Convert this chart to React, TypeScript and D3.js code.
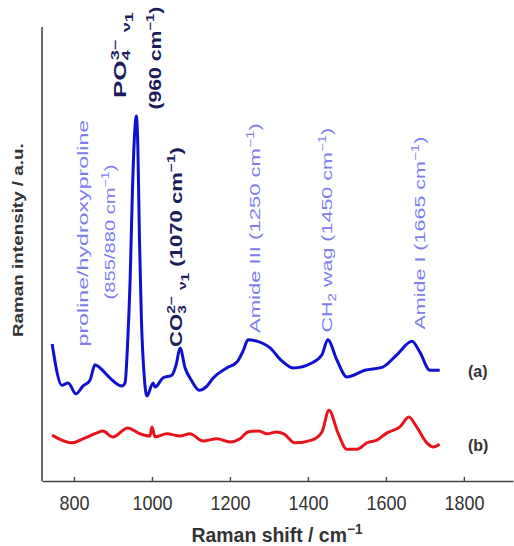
import { useEffect, useRef } from 'react'
import * as d3 from 'd3'

// spectrum (a) - blue
const shiftA = [744, 769, 785, 805, 823, 841, 854, 867, 892, 923, 931, 938, 944, 950, 956, 960, 964, 968, 973, 980, 987, 1003, 1008, 1028, 1051, 1062, 1072, 1085, 1101, 1121, 1141, 1157, 1192, 1218, 1235, 1246, 1269, 1303, 1330, 1362, 1410, 1436, 1451, 1474, 1500, 1546, 1592, 1628, 1667, 1687, 1713, 1738]
const intensityA = [30.2, 21.1, 21.6, 19.2, 20.9, 22.2, 25.6, 24.9, 22.7, 20.9, 21.6, 31.1, 44.3, 64.1, 77.3, 80.4, 72.9, 53.1, 35.5, 23.3, 18.7, 21.6, 20.7, 22.7, 23.3, 25.6, 29.3, 24.9, 22.2, 20.0, 20.9, 22.7, 24.9, 26.2, 28.9, 31.1, 30.8, 29.3, 26.7, 24.9, 26.0, 27.8, 31.1, 26.7, 22.9, 24.4, 25.1, 27.8, 30.8, 28.4, 24.4, 24.4]

// spectrum (b) - red
const shiftB = [744, 769, 795, 823, 859, 874, 900, 938, 969, 995, 1000, 1008, 1038, 1072, 1097, 1131, 1167, 1200, 1226, 1246, 1274, 1295, 1320, 1338, 1367, 1410, 1436, 1454, 1477, 1500, 1526, 1551, 1577, 1603, 1636, 1659, 1679, 1705, 1722, 1738]
const intensityB = [10.1, 9.0, 8.4, 9.3, 10.6, 11.0, 9.7, 11.7, 10.4, 9.9, 11.9, 9.7, 10.4, 9.9, 10.4, 8.8, 9.3, 8.6, 9.3, 10.8, 11.0, 10.4, 10.8, 10.4, 8.4, 9.0, 10.8, 15.6, 10.6, 7.0, 7.0, 8.4, 9.0, 10.6, 11.9, 14.1, 11.9, 8.4, 7.5, 8.1]

const xTicks = [800, 1000, 1200, 1400, 1600, 1800]

const LIGHT = '#7d7df0'
const DARK = '#1c1c5c'
const GREY = '#333'
const FONT = '"Liberation Sans", Arial, sans-serif'

type Part = [string, ('sup' | 'sub' | 'sub2' | 'stack')?]

export default function App() {
  const svgRef = useRef<SVGSVGElement>(null)

  useEffect(() => {
    if (!svgRef.current) return
    const svg = d3.select(svgRef.current)
    svg.selectAll('*').remove()

    const x = d3.scaleLinear().domain([718, 1926]).range([42, 513])
    const y = d3.scaleLinear().domain([0, 100]).range([481, 27])

    // axes
    svg.append('line')
      .attr('x1', 42).attr('x2', 42)
      .attr('y1', 27).attr('y2', 481)
      .attr('stroke', '#444').attr('stroke-width', 1.6)

    const xAxis = svg.append('g')
      .attr('transform', 'translate(0,481)')
      .call(d3.axisBottom(x).tickValues(xTicks).tickSize(-4).tickSizeOuter(0).tickFormat(d3.format('d')))
    xAxis.select('.domain').attr('stroke', '#444').attr('stroke-width', 1.6)
    xAxis.selectAll('.tick line').attr('stroke', '#444').attr('stroke-width', 1.4)
    xAxis.selectAll('.tick text')
      .attr('y', 29 / 1.15).attr('dy', 0)
      .attr('transform', 'scale(1,1.15)')
      .attr('font-family', FONT).attr('font-size', 18).attr('fill', GREY)

    const drawSpectrum = (xs: number[], ys: number[], color: string) => {
      const path = d3.line<number>()
        .x((d) => x(d))
        .y((_, i) => y(ys[i]))
        .curve(d3.curveMonotoneX)
      svg.append('path')
        .attr('d', path(xs))
        .attr('fill', 'none')
        .attr('stroke', color)
        .attr('stroke-width', 3)
        .attr('stroke-linejoin', 'round')
    }
    drawSpectrum(shiftA, intensityA, '#1010d0')
    drawSpectrum(shiftB, intensityB, '#e8141c')

    // text helper: centre at (cx, baseline), stretched to target length
    const label = (parts: Part[], cx: number, cy: number, len: number, size: number, bold: boolean, fill: string, rotate: boolean, sy = 1) => {
      const t = svg.append('text')
        .attr('font-family', FONT)
        .attr('font-size', size)
        .attr('font-weight', bold ? 700 : 400)
        .attr('fill', fill)
      let off = 0
      parts.forEach(([s, kind]) => {
        const small = size * 0.7
        let target = 0
        if (kind === 'sup') target = -size * 0.42
        if (kind === 'sub') target = size * 0.25
        if (kind === 'sub2') target = size * 0.45
        if (kind === 'stack') target = -size * 0.42
        const ts = t.append('tspan').text(s).attr('dy', target - off)
        if (kind) ts.attr('font-size', small)
        if (kind === 'stack') ts.attr('dx', -small * 0.556)
        off = target
      })
      const bb = (t.node() as SVGTextElement).getBBox()
      const k = len / bb.width
      const rot = rotate ? ' rotate(-90)' : ''
      t.attr('transform', `translate(${cx},${cy})${rot} scale(${k},${sy}) translate(${-bb.x - bb.width / 2},0)`)
    }

    const M = '\u2212'
    // rotated peak labels
    label([['proline/hydroxyproline']], 88, 233, 227, 15, false, LIGHT, true)
    label([['(855/880 cm'], [M + '1', 'sup'], [')']], 115, 232, 135, 15, false, LIGHT, true)
    label([['PO'], ['4', 'sub'], ['3' + M, 'stack'], [' '], ['\u03bd', 'sub'], ['1', 'sub2']], 126, 55, 86, 16, true, DARK, true)
    label([['(960 cm'], [M + '1', 'sup'], [')']], 161, 58, 103, 16, true, DARK, true)
    label([['CO'], ['3', 'sub'], ['2' + M, 'stack'], [' '], ['\u03bd', 'sub'], ['1', 'sub2'], [' (1070 cm'], [M + '1', 'sup'], [')']], 182, 247, 200, 16, true, DARK, true)
    label([['Amide III (1250 cm'], [M + '1', 'sup'], [')']], 260, 228, 210, 15, false, LIGHT, true)
    label([['CH'], ['2', 'sub'], [' wag (1450 cm'], [M + '1', 'sup'], [')']], 332, 230, 205, 15, false, LIGHT, true)
    label([['Amide I (1665 cm'], [M + '1', 'sup'], [')']], 425, 233, 193, 15, false, LIGHT, true)

    // axis titles
    label([['Raman intensity / a.u.']], 23, 240, 194, 15, true, GREY, true)
    label([['Raman shift / cm'], [M + '1', 'sup']], 277, 542, 171, 18, true, GREY, false, 1.1)

    // series tags
    svg.append('text').attr('x', 468).attr('y', 377).text('(a)')
      .attr('font-family', FONT).attr('font-size', 16).attr('font-weight', 700).attr('fill', GREY)
    svg.append('text').attr('x', 468).attr('y', 451).text('(b)')
      .attr('font-family', FONT).attr('font-size', 16).attr('font-weight', 700).attr('fill', GREY)
  }, [])

  return (
    <svg
      ref={svgRef}
      width={514}
      height={546}
      style={{ position: 'absolute', left: 0, top: 0, background: '#fff' }}
    />
  )
}
